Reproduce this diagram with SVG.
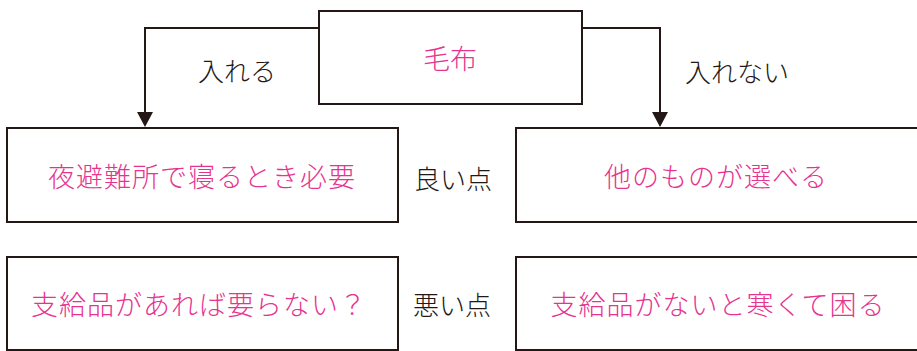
<svg xmlns="http://www.w3.org/2000/svg" width="917" height="351" viewBox="0 0 917 351">
<style>
.box{fill:#fff;stroke:#231815;stroke-width:2}
.line{fill:none;stroke:#231815;stroke-width:2}
.head{fill:#231815}
.p{fill:#e6338f;font-family:"Noto Sans CJK JP","Noto Sans CJK SC",sans-serif;font-size:27px;font-weight:300;text-anchor:middle;dominant-baseline:central}
.k{fill:#231815;font-family:"Noto Sans CJK JP","Noto Sans CJK SC",sans-serif;font-size:26px;font-weight:300;text-anchor:middle;dominant-baseline:central}
</style>
<rect width="917" height="351" fill="#fff"/>
<g id="connectors">
<path class="line" d="M319 28 H145 V114"/>
<polygon class="head" points="137,112 153,112 145,127"/>
<path class="line" d="M582 28 H660 V114"/>
<polygon class="head" points="652,112 668,112 660,127"/>
</g>
<g id="root">
<rect class="box" x="319" y="11" width="263" height="93"/>
<text class="p" x="450" y="57">毛布</text>
</g>
<g id="label-ireru"><text class="k" x="237" y="69">入れる</text></g>
<g id="label-irenai"><text class="k" x="737" y="70">入れない</text></g>
<g id="good-left">
<rect class="box" x="7" y="128" width="391" height="94"/>
<text class="p" x="202" y="175" style="letter-spacing:1px">夜避難所で寝るとき必要</text>
</g>
<g id="good-right">
<rect class="box" x="516" y="128" width="404" height="94"/>
<text class="p" x="716" y="175" style="letter-spacing:1px">他のものが選べる</text>
</g>
<g id="label-good"><text class="k" x="453" y="177">良い点</text></g>
<g id="bad-left">
<rect class="box" x="7" y="257" width="391" height="93"/>
<text class="p" x="199" y="303" style="letter-spacing:1px">支給品があれば要らない？</text>
</g>
<g id="bad-right">
<rect class="box" x="516" y="257" width="404" height="93"/>
<text class="p" x="718" y="303" style="letter-spacing:1px">支給品がないと寒くて困る</text>
</g>
<g id="label-bad"><text class="k" x="452" y="303">悪い点</text></g>
</svg>
